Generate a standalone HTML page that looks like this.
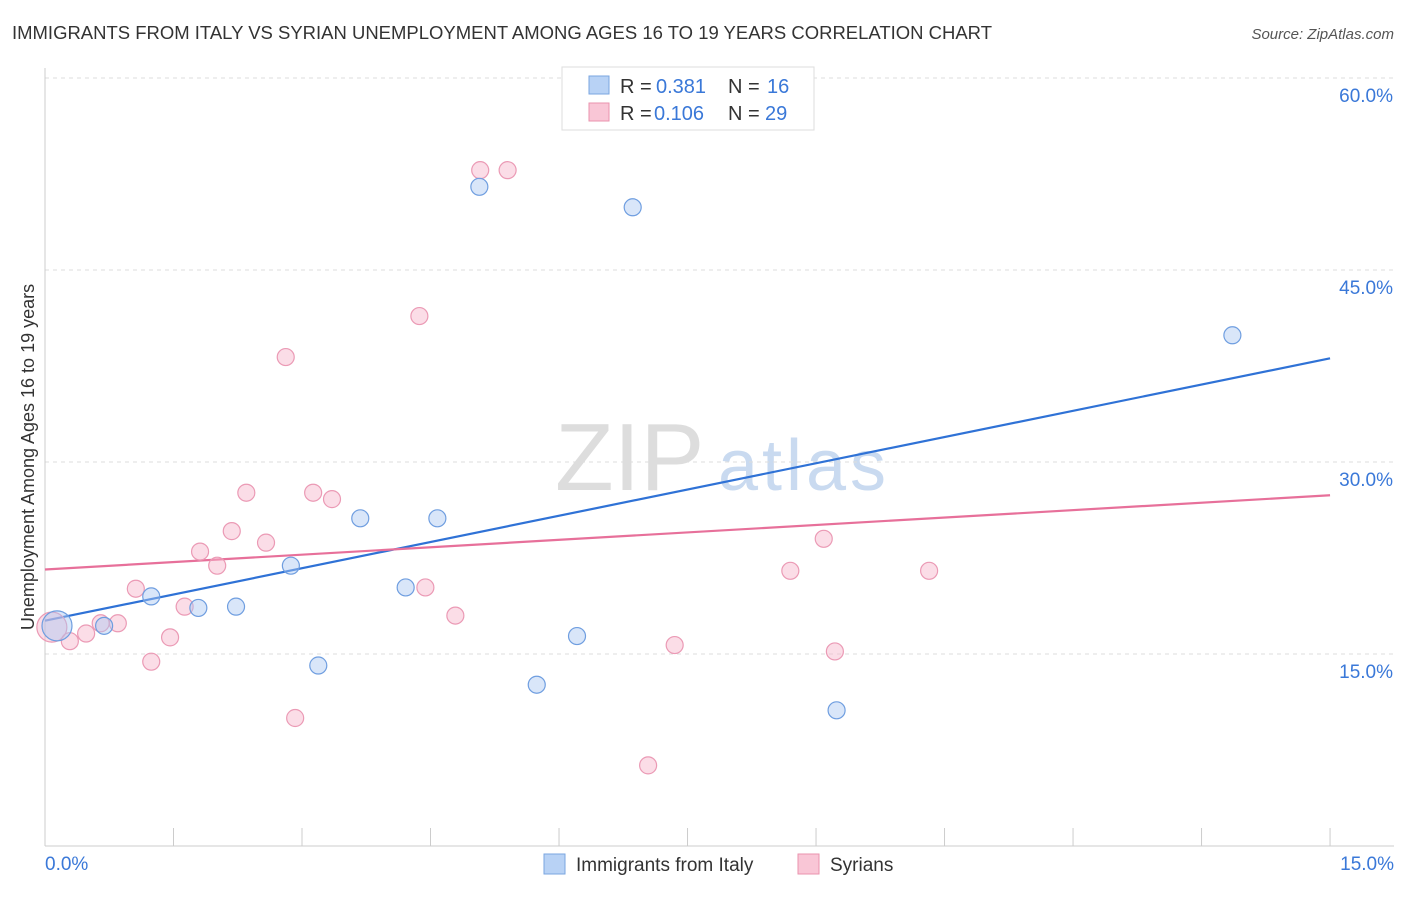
<!DOCTYPE html>
<html><head><meta charset="utf-8"><style>
body{margin:0;background:#fff;font-family:"Liberation Sans",sans-serif;}
svg text{font-family:"Liberation Sans",sans-serif;}
</style></head><body>
<svg id="chart" width="1406" height="892">
<text x="12" y="39" font-size="18" fill="#333" textLength="980" lengthAdjust="spacingAndGlyphs">IMMIGRANTS FROM ITALY VS SYRIAN UNEMPLOYMENT AMONG AGES 16 TO 19 YEARS CORRELATION CHART</text>
<text x="1394" y="39" font-size="15" fill="#555" text-anchor="end" font-style="italic">Source: ZipAtlas.com</text>
<text x="0" y="0" transform="translate(34,457) rotate(-90)" font-size="18" fill="#333" text-anchor="middle">Unemployment Among Ages 16 to 19 years</text>
<text x="555" y="490" font-size="96" fill="#ddd" font-family="Liberation Serif">ZIP</text>
<text x="718" y="490" font-size="72" fill="#c9daf0" textLength="168">atlas</text>
<g id="grid"></g><g id="axes"></g><g id="lines"></g><g id="pts"></g>
<g>
<rect x="562" y="67" width="252" height="63" fill="#fff" stroke="#ddd"/>
<rect x="589" y="76" width="20" height="18" fill="#b8d2f5" stroke="#7aa6e0"/>
<rect x="589" y="103" width="20" height="18" fill="#f9c6d6" stroke="#ea93ae"/>
<text x="620" y="93" font-size="20" fill="#333">R =</text><text x="656" y="93" font-size="20" fill="#3a78d8">0.381</text>
<text x="728" y="93" font-size="20" fill="#333">N =</text><text x="767" y="93" font-size="20" fill="#3a78d8">16</text>
<text x="620" y="120" font-size="20" fill="#333">R =</text><text x="654" y="120" font-size="20" fill="#3a78d8">0.106</text>
<text x="728" y="120" font-size="20" fill="#333">N =</text><text x="765" y="120" font-size="20" fill="#3a78d8">29</text>
</g>
<g>
<rect x="544" y="854" width="21" height="20" fill="#b8d2f5" stroke="#7aa6e0"/>
<text x="576" y="871" font-size="19" fill="#333">Immigrants from Italy</text>
<rect x="798" y="854" width="21" height="20" fill="#f9c6d6" stroke="#ea93ae"/>
<text x="830" y="871" font-size="19" fill="#333">Syrians</text>
</g>
</svg>
<script>
const italyX=[0.14,0.69,1.24,1.79,2.23,2.87,3.19,3.68,4.21,4.58,5.07,5.74,6.21,6.86,9.24,13.86];
const italyY=[17.2,17.2,19.5,18.6,18.7,21.9,14.1,25.6,20.2,25.6,51.5,12.6,16.4,49.9,10.6,39.9];
const syrX=[0.08,0.29,0.48,0.65,0.85,1.06,1.24,1.46,1.63,1.81,2.01,2.18,2.35,2.58,2.81,2.92,3.13,3.35,4.37,4.44,4.79,5.08,5.40,7.04,7.35,8.70,9.09,9.22,10.32];
const syrY=[17.1,16.0,16.6,17.4,17.4,20.1,14.4,16.3,18.7,23.0,21.9,24.6,27.6,23.7,38.2,10.0,27.6,27.1,41.4,20.2,18.0,52.8,52.8,6.3,15.7,21.5,24.0,15.2,21.5];
const italyTrend=[17.6,38.1];
const syrTrend=[21.6,27.4];
const yTicks=[15,30,45,60];
const xTickLabels=["0.0%","15.0%"];
const NS="http://www.w3.org/2000/svg";
const sx=v=>45+v*85.67, sy=v=>846-v*12.8;
function mk(t,a,p){const e=document.createElementNS(NS,t);for(const k in a)e.setAttribute(k,a[k]);document.getElementById(p).appendChild(e);return e;}
yTicks.forEach(t=>{
 const l=mk('line',{x1:45,x2:1394,y1:sy(t),y2:sy(t),stroke:'#ddd','stroke-dasharray':'4,4'},'grid');
 
 
 const tx=mk('text',{x:1393,y:sy(t)+24,'font-size':19,fill:'#3a78d8','text-anchor':'end'},'grid');
 tx.textContent=t.toFixed(1)+'%';
 
 
});
mk('line',{x1:45,x2:45,y1:68,y2:846,stroke:'#ccc'},'axes');
mk('line',{x1:45,x2:1394,y1:846,y2:846,stroke:'#ccc'},'axes');
for(let i=0;i<=10;i++){const x=sx(i*1.5);mk('line',{x1:x,x2:x,y1:828,y2:846,stroke:'#ccc'},'axes');}
const t0=mk('text',{x:45,y:870,'font-size':19,fill:'#3a78d8'},'axes');t0.textContent=xTickLabels[0];


const t1=mk('text',{x:1394,y:870,'font-size':19,fill:'#3a78d8','text-anchor':'end'},'axes');t1.textContent=xTickLabels[1];


const lb=mk('line',{x1:sx(0),x2:sx(15),y1:sy(italyTrend[0]),y2:sy(italyTrend[1]),stroke:'#2f72d6','stroke-width':2.2},'lines');


const lp=mk('line',{x1:sx(0),x2:sx(15),y1:sy(syrTrend[0]),y2:sy(syrTrend[1]),stroke:'#e7709a','stroke-width':2.2},'lines');


syrX.forEach((x,i)=>{const c=mk('circle',{cx:sx(x),cy:sy(syrY[i]),r:i==0?15:8.5,fill:'rgba(247,180,202,0.45)',stroke:'#eb9ab5','stroke-width':1.2},'pts');
 
 });
italyX.forEach((x,i)=>{const c=mk('circle',{cx:sx(x),cy:sy(italyY[i]),r:i==0?15:8.5,fill:'rgba(170,200,242,0.45)',stroke:'#6f9ee0','stroke-width':1.2},'pts');
 
 });
</script>
</body></html>
